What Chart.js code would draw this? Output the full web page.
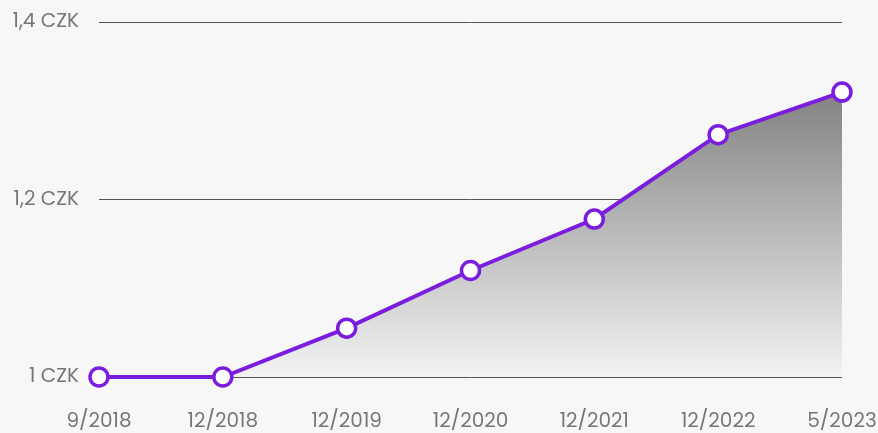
<!DOCTYPE html>
<html lang="cs">
<head>
  <meta charset="UTF-8">
  <title>Vývoj ceny</title>
  <script src="https://cdn.jsdelivr.net/npm/chart.js"></script>
  <style>
    html, body { margin: 0; padding: 0; background: #f7f7f7; }
    #wrap { width: 878px; height: 433px; }
  </style>
</head>
<body>
  <div id="wrap"><canvas id="priceChart"></canvas></div>

  <script>
    // values
    const labels = ['9/2018', '12/2018', '12/2019', '12/2020', '12/2021', '12/2022', '5/2023'];
    const prices = [1.0, 1.0, 1.055, 1.12, 1.178, 1.273, 1.321];
    const yTicks = [1, 1.2, 1.4];

    const purple = '#7a1ddf';
    const fontFamily = 'Poppins, Inter, sans-serif';

    // gray fill fading toward the bottom of the plot
    function fillGradient(context) {
      const area = context.chart.chartArea;
      if (!area) return 'rgba(120,120,120,0.6)';
      const g = context.chart.ctx.createLinearGradient(0, area.top, 0, area.bottom);
      g.addColorStop(0, '#666666');
      g.addColorStop(1, '#f3f3f3');
      return g;
    }

    new Chart(document.getElementById('priceChart'), {
      type: 'line',
      data: {
        labels: labels,
        datasets: [{
          data: prices,
          borderColor: purple,
          borderWidth: 4,
          backgroundColor: fillGradient,
          fill: 'start',
          tension: 0,
          clip: false,
          pointRadius: 9,
          pointBorderWidth: 3.5,
          pointBackgroundColor: '#ffffff',
          pointBorderColor: purple
        }]
      },
      options: {
        responsive: true,
        maintainAspectRatio: false,
        animation: false,
        layout: { padding: { top: 22, left: 0, right: 0, bottom: 0 } },
        plugins: { legend: { display: false }, tooltip: { enabled: false } },
        scales: {
          x: {
            offset: false,
            grid: { display: false },
            border: { display: false },
            afterFit: function (axis) {
              axis.height = 56;
              axis.paddingLeft = 0;
              axis.paddingRight = 36;
            },
            ticks: {
              padding: 25,
              color: '#767676',
              maxRotation: 0,
              autoSkip: false,
              font: { family: fontFamily, size: 20 }
            }
          },
          y: {
            min: 1,
            max: 1.4,
            afterBuildTicks: function (axis) {
              axis.ticks = yTicks.map(v => ({ value: v }));
            },
            afterFit: function (axis) {
              axis.width = 99;
              axis.paddingTop = 0;
              axis.paddingBottom = 0;
            },
            grid: { color: '#555555', lineWidth: 1, drawTicks: false },
            border: { display: false },
            ticks: {
              padding: 20,
              color: '#767676',
              font: { family: fontFamily, size: 20 },
              callback: v => String(v).replace('.', ',') + ' CZK'
            }
          }
        }
      }
    });
  </script>
</body>
</html>
